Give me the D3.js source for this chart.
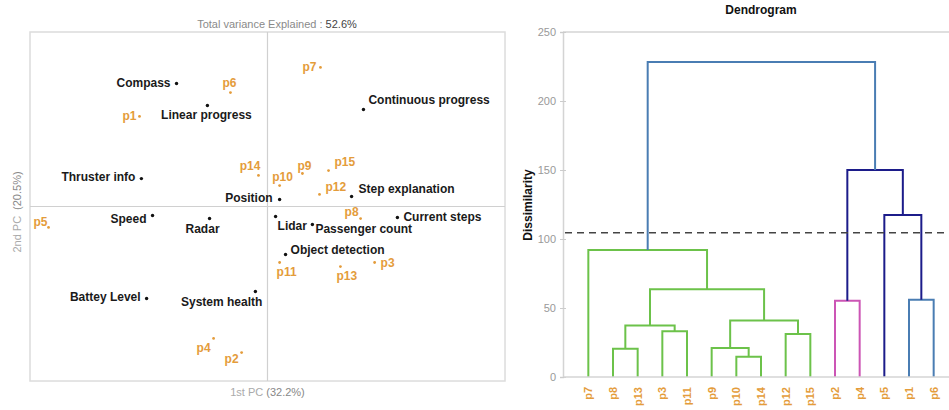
<!DOCTYPE html>
<html>
<head>
<meta charset="utf-8">
<script src="https://cdn.jsdelivr.net/npm/d3@7"></script>
<style>
  body { margin: 0; background: #fff; }
  svg { font-family: "Liberation Sans", Arial, sans-serif; }
</style>
</head>
<body>
<svg id="chart" width="949" height="410"></svg>
<script>
// ---- biplot data (PC1, PC2) ----
const varNames = ["Compass", "Linear progress", "Continuous progress", "Thruster info", "Step explanation",
  "Position", "Speed", "Radar", "Lidar", "Passenger count", "Current steps", "Object detection",
  "Battey Level", "System health"];
const varX = [-0.383, -0.253, 0.404, -0.531, 0.354, 0.051, -0.484, -0.244, 0.034, 0.189, 0.547, 0.076, -0.509, -0.051];
const varY = [0.705, 0.579, 0.556, 0.160, 0.057, 0.040, -0.052, -0.069, -0.057, -0.103, -0.063, -0.275, -0.527, -0.487];

const obsNames = ["p1", "p2", "p3", "p4", "p5", "p6", "p7", "p8", "p9", "p10", "p11", "p12", "p13", "p14", "p15"];
const obsX = [-0.539, -0.109, 0.451, -0.227, -0.922, -0.156, 0.223, 0.392, 0.147, 0.051, 0.051, 0.219, 0.307, -0.038, 0.257];
const obsY = [0.516, -0.837, -0.321, -0.756, -0.120, 0.653, 0.797, -0.069, 0.189, 0.120, -0.321, 0.069, -0.344, 0.178, 0.206];

const totalVar = "52.6%", pc1Var = "(32.2%)", pc2Var = "(20.5%)";

// ---- dendrogram data ----
const leaves = ["p7", "p8", "p13", "p3", "p11", "p9", "p10", "p14", "p12", "p15", "p2", "p4", "p5", "p1", "p6"];
// merge i creates node "c"+i : [left, right, height]
const merges = [
  ["p10", "p14", 14.7],  // c0
  ["p8", "p13", 20.5],   // c1
  ["p9", "c0", 21.0],    // c2
  ["p12", "p15", 31.2],  // c3
  ["p3", "p11", 33.1],   // c4
  ["c1", "c4", 37.4],    // c5
  ["c2", "c3", 41.0],    // c6
  ["p2", "p4", 55.3],    // c7
  ["p1", "p6", 56.0],    // c8
  ["c5", "c6", 63.5],    // c9
  ["p7", "c9", 92.0],    // c10
  ["p5", "c8", 117.4],   // c11
  ["c7", "c11", 150.0],  // c12
  ["c10", "c12", 228.3]  // c13
];
const mergeGroup = ["g", "g", "g", "g", "g", "g", "g", "m", "b", "g", "g", "n", "n", "b"];
const cutHeight = 104.5;
const dissTicks = [0, 50, 100, 150, 200, 250];

const groupColor = { g: "#6cc24a", m: "#cc55b5", n: "#1c1c8a", b: "#4a7db3" };
const orange = "#e49c3b";

const svg = d3.select("#chart");

// ================= left: biplot =================
const L = { x0: 30, x1: 505, y0: 32, y1: 381 };
const x = d3.scaleLinear().domain([-1, 1]).range([L.x0, L.x1]);
const y = d3.scaleLinear().domain([-1, 1]).range([L.y1, L.y0]);

const left = svg.append("g");
left.append("rect")
  .attr("x", L.x0).attr("y", L.y0)
  .attr("width", L.x1 - L.x0).attr("height", L.y1 - L.y0)
  .attr("fill", "none").attr("stroke", "#dcdcdc").attr("stroke-width", 1.5);
left.append("line")
  .attr("x1", x(0)).attr("x2", x(0)).attr("y1", L.y0).attr("y2", L.y1)
  .attr("stroke", "#d0d0d0").attr("stroke-width", 1.2);
left.append("line")
  .attr("x1", L.x0).attr("x2", L.x1).attr("y1", y(0)).attr("y2", y(0))
  .attr("stroke", "#d0d0d0").attr("stroke-width", 1.2);

// label offsets [dx, dy, anchor]
const varLab = {
  "Compass": [-6, 4, "end"], "Linear progress": [-1, 14, "middle"], "Continuous progress": [5, -5, "start"],
  "Thruster info": [-6, 2, "end"], "Step explanation": [7, -4, "start"], "Position": [-7, 2, "end"],
  "Speed": [-6, 7, "end"], "Radar": [-7, 14, "middle"], "Lidar": [2, 14, "start"],
  "Passenger count": [3, 9, "start"], "Current steps": [6, 4, "start"], "Object detection": [5, 0, "start"],
  "Battey Level": [-6, 3, "end"], "System health": [7, 15, "end"]
};
const obsLab = {
  p1: [-3, 4, "end"], p2: [-3, 10, "end"], p3: [6, 4, "start"], p4: [-3, 14, "end"], p5: [-1, -1, "end"],
  p6: [-1, -6, "middle"], p7: [-4, 4, "end"], p8: [-2, -3, "end"], p9: [2, -4, "middle"], p10: [3, -5, "middle"],
  p11: [-3, 13, "start"], p12: [6, -3, "start"], p13: [-4, 13, "start"], p14: [2, -5, "end"], p15: [6, -5, "start"]
};

const vars = varNames.map((n, i) => ({ n, x: varX[i], y: varY[i] }));
const obs = obsNames.map((n, i) => ({ n, x: obsX[i], y: obsY[i] }));

left.selectAll(".vdot").data(vars).join("circle")
  .attr("cx", d => x(d.x)).attr("cy", d => y(d.y)).attr("r", 1.7).attr("fill", "#111");
left.selectAll(".vlab").data(vars).join("text")
  .attr("x", d => x(d.x) + varLab[d.n][0]).attr("y", d => y(d.y) + varLab[d.n][1])
  .attr("text-anchor", d => varLab[d.n][2])
  .attr("font-size", 12).attr("font-weight", "bold").attr("fill", "#1a1a1a")
  .text(d => d.n);

left.selectAll(".odot").data(obs).join("circle")
  .attr("cx", d => x(d.x)).attr("cy", d => y(d.y)).attr("r", 1.4).attr("fill", orange);
left.selectAll(".olab").data(obs).join("text")
  .attr("x", d => x(d.x) + obsLab[d.n][0]).attr("y", d => y(d.y) + obsLab[d.n][1])
  .attr("text-anchor", d => obsLab[d.n][2])
  .attr("font-size", 12).attr("font-weight", "bold").attr("fill", orange)
  .text(d => d.n);

const t1 = left.append("text").attr("x", 277).attr("y", 28).attr("text-anchor", "middle").attr("font-size", 11);
t1.append("tspan").attr("fill", "#8a8a8a").text("Total variance Explained : ");
t1.append("tspan").attr("fill", "#444").text(totalVar);

const t2 = left.append("text").attr("x", x(0)).attr("y", 396).attr("text-anchor", "middle").attr("font-size", 11);
t2.append("tspan").attr("fill", "#aaa").text("1st PC ");
t2.append("tspan").attr("fill", "#888").text(pc1Var);

const t3 = left.append("text").attr("transform", "translate(21," + 212 + ") rotate(-90)")
  .attr("text-anchor", "middle").attr("font-size", 11);
t3.append("tspan").attr("fill", "#aaa").text("2nd PC");
t3.append("tspan").attr("fill", "#888").attr("dx", 6).text(pc2Var);

// ================= right: dendrogram =================
const D = { x0: 563, x1: 949, y0: 32, y1: 377 };
const xl = d3.scaleBand().domain(leaves).range([576, 946]);
const yd = d3.scaleLinear().domain([0, 250]).range([D.y1, D.y0]);

const right = svg.append("g");
right.append("line").attr("x1", D.x0).attr("x2", D.x1).attr("y1", yd(250)).attr("y2", yd(250))
  .attr("stroke", "#d4d4d4").attr("stroke-width", 1.5);

const yAxis = right.append("g").attr("transform", "translate(" + D.x0 + ",0)")
  .call(d3.axisLeft(yd).tickValues(dissTicks).tickSize(3).tickPadding(4));
yAxis.select(".domain").attr("stroke", "#d4d4d4").attr("stroke-width", 1.5);
yAxis.selectAll(".tick line").attr("stroke", "#ccc").attr("x2", 3).attr("x1", -3);
yAxis.selectAll(".tick text").attr("fill", "#999").attr("font-size", 11)
  .attr("font-family", "Liberation Sans, Arial, sans-serif");

// node positions
const pos = {};
leaves.forEach(l => { pos[l] = { x: xl(l) + xl.bandwidth() / 2, h: 0 }; });
const links = merges.map((m, i) => {
  const a = pos[m[0]], b = pos[m[1]];
  pos["c" + i] = { x: (a.x + b.x) / 2, h: m[2] };
  return { a, b, h: m[2], c: groupColor[mergeGroup[i]] };
});

right.selectAll(".link").data(links).join("path")
  .attr("fill", "none").attr("stroke", d => d.c).attr("stroke-width", 2)
  .attr("d", d => "M" + d.a.x + "," + yd(d.a.h) + "V" + yd(d.h) + "H" + d.b.x + "V" + yd(d.b.h));

right.append("line").attr("x1", D.x0 + 1).attr("x2", D.x1).attr("y1", yd(0)).attr("y2", yd(0))
  .attr("stroke", "#d4d4d4").attr("stroke-width", 1.5);

right.append("line").attr("x1", D.x0 + 2).attr("x2", D.x1).attr("y1", yd(cutHeight)).attr("y2", yd(cutHeight))
  .attr("stroke", "#444").attr("stroke-width", 1.6).attr("stroke-dasharray", "7,5");

right.selectAll(".leaf").data(leaves).join("text")
  .attr("transform", d => "translate(" + (xl(d) + xl.bandwidth() / 2) + ",387) rotate(-90)")
  .attr("dy", "0.35em").attr("text-anchor", "end")
  .attr("font-size", 11).attr("font-weight", "bold").attr("fill", orange)
  .text(d => d);

right.append("text").attr("x", 761).attr("y", 14).attr("text-anchor", "middle")
  .attr("font-size", 12).attr("font-weight", "bold").attr("fill", "#111").text("Dendrogram");
right.append("text").attr("transform", "translate(532,205) rotate(-90)").attr("text-anchor", "middle")
  .attr("font-size", 12).attr("font-weight", "bold").attr("fill", "#111").text("Dissimilarity");
</script>
</body>
</html>
